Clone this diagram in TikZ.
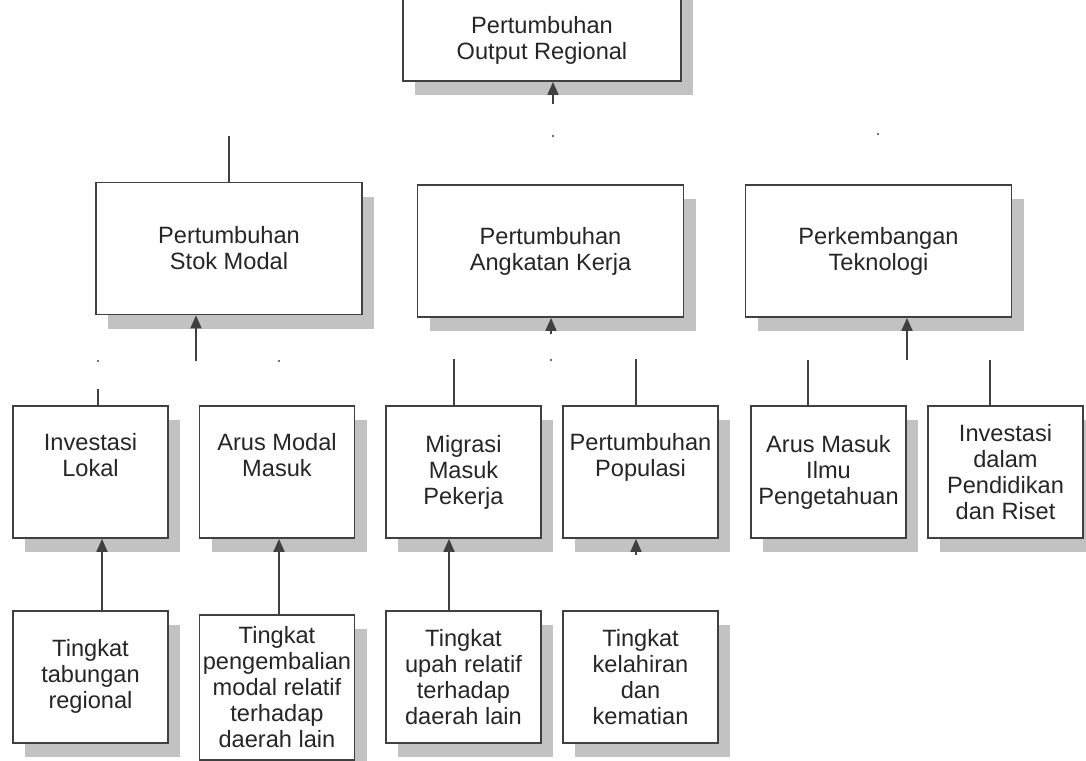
\documentclass[tikz,border=0pt]{standalone}
\usepackage{fontspec}
\setmainfont{Liberation Sans}
\usetikzlibrary{arrows.meta,positioning,shadows}

\begin{document}
\begin{tikzpicture}[x=0.5pt,y=-0.5pt,node distance=35.5pt,>={Triangle[length=6.5pt,width=5.5pt]},
    font=\fontsize{11.8}{13}\selectfont,line width=0.9pt]
    \useasboundingbox (0,0) rectangle (1086,760);
    \tikzstyle{box}=[rectangle,draw=black!75,fill=white,align=center,text=black!85,
      drop shadow={shadow xshift=6pt,shadow yshift=-7pt,fill=black!24,opacity=1}]
    \tikzstyle{big}=[box,minimum width=133pt,minimum height=66pt]
    \tikzstyle{small}=[box,minimum width=77.5pt,minimum height=66pt]
    \tikzstyle{conn}=[draw=black!75,fill=black!75]
    % top (upper edge runs off the page)
    \node[box,minimum width=139pt,minimum height=67pt] (output) at (542,14) {\strut\\\strut\\Pertumbuhan\\Output Regional};
    % middle row
    \node[big] (stok) at (229,248.5) {Pertumbuhan\\Stok Modal};
    \node[big] (kerja) at (550.5,251) {Pertumbuhan\\Angkatan Kerja};
    \node[big] (tekno) at (878.5,251) {Perkembangan\\Teknologi};
    % factors
    \node[small] (lokal) at (90.5,472) {Investasi\\Lokal\\\strut};
    \node[small] (modal) at (277,472) {Arus Modal\\Masuk\\\strut};
    \node[small] (migrasi) at (463.5,472) {Migrasi\\Masuk\\Pekerja};
    \node[small] (populasi) at (640.5,472) {Pertumbuhan\\Populasi\\\strut};
    \node[small] (ilmu) at (828.5,472) {Arus Masuk\\Ilmu\\Pengetahuan};
    \node[small] (riset) at (1005.5,472) {Investasi\\dalam\\Pendidikan\\dan Riset};
    % determinants
    \node[small,below=of lokal] (tabungan) {Tingkat\\tabungan\\regional};
    \node[small,inner xsep=0.5pt,minimum height=72.5pt,below=37.5pt of modal] (kembali) {Tingkat\\pengembalian\\modal relatif\\terhadap\\daerah lain};
    \node[small,below=of migrasi] (upah) {Tingkat\\upah relatif\\terhadap\\daerah lain};
    \node[small,below=of populasi] (lahir) {Tingkat\\kelahiran\\dan\\kematian};

    % into output
    \coordinate (j0) at (553,136);
    \coordinate (a0) at (553,104);
    \draw[->,conn] (a0) -- (a0 |- output.south);
    \coordinate (j1) at (229,136);
    \draw[conn] (j1) -- (stok);
    \coordinate (j2) at (878,134);
    % into stok modal
    \coordinate (a1) at (196,361);
    \draw[->,conn] (a1) -- (a1 |- stok.south);
    \coordinate (j3) at (98,361);
    \coordinate (j4) at (279,361);
    \coordinate (s1) at (98,389);
    \draw[conn] (s1) -- (s1 |- lokal.north);
    % into angkatan kerja
    \coordinate (a2) at (551,334);
    \draw[->,conn] (a2) -- (a2 |- kerja.south);
    \coordinate (j5) at (551,360);
    \coordinate (s2) at (454,359);
    \draw[conn] (s2) -- (s2 |- migrasi.north);
    \coordinate (s3) at (636,359);
    \draw[conn] (s3) -- (s3 |- populasi.north);
    % into teknologi
    \coordinate (a3) at (907,360);
    \draw[->,conn] (a3) -- (a3 |- tekno.south);
    \coordinate (s4) at (808,360);
    \draw[conn] (s4) -- (s4 |- ilmu.north);
    \coordinate (s5) at (990,360);
    \draw[conn] (s5) -- (s5 |- riset.north);
    % bottom arrows
    \draw[->,conn] ([xshift=5.75pt]tabungan.north) -- ([xshift=5.75pt]lokal.south);
    \draw[->,conn] ([xshift=1pt]kembali.north) -- ([xshift=1pt]modal.south);
    \draw[->,conn] ([xshift=-7.25pt]upah.north) -- ([xshift=-7.25pt]migrasi.south);
    \coordinate (a4) at (636,555);
    \draw[->,conn] (a4) -- (a4 |- populasi.south);

    \foreach \d in {j0,j2,j3,j4,j5}
      \fill[black!55] (\d) +(-1.2,-1.2) rectangle +(1.2,1.2);
  \end{tikzpicture}
\end{document}
